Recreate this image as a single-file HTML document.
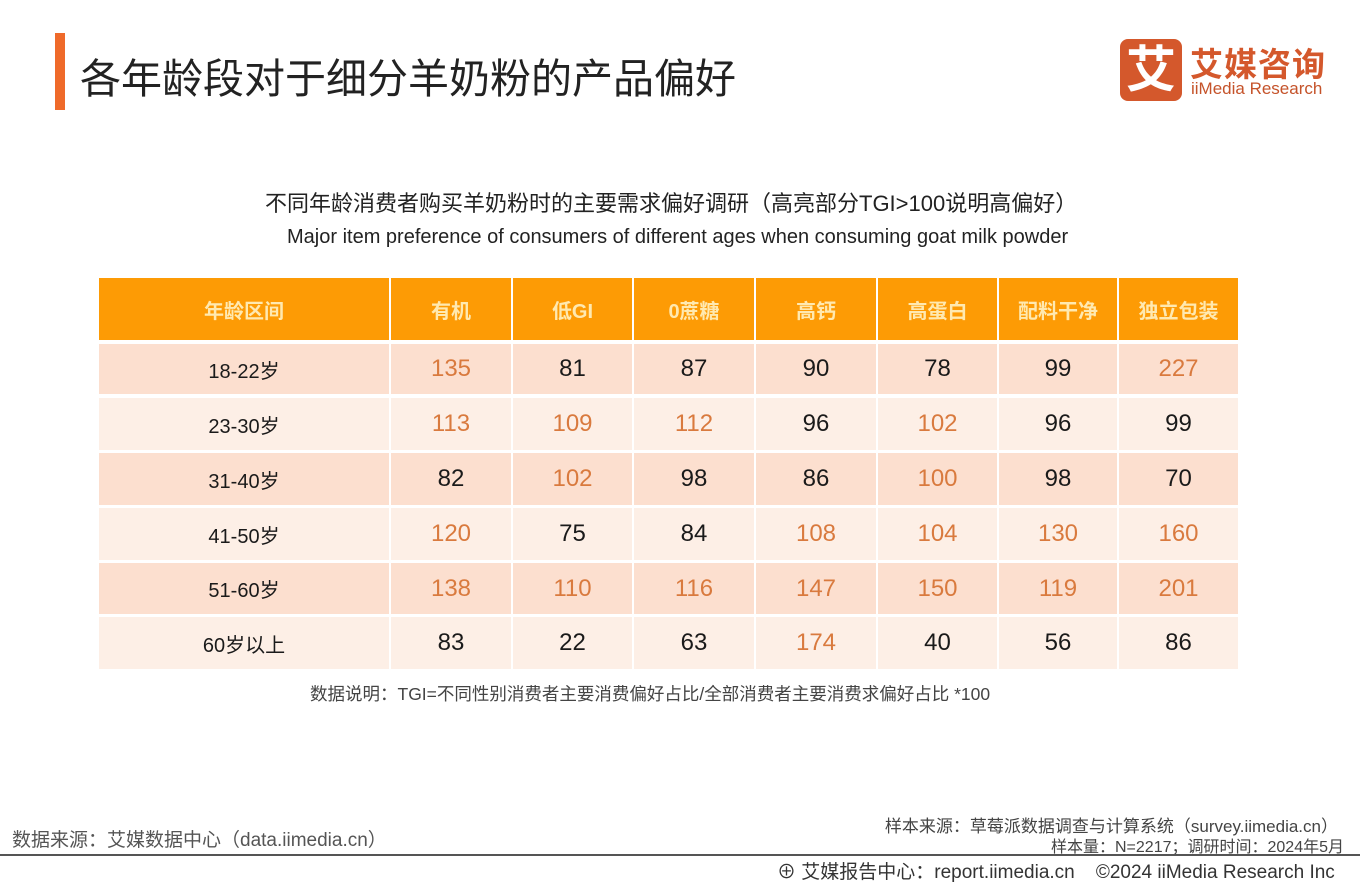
<!DOCTYPE html>
<html><head><meta charset="utf-8"><style>
body{margin:0;width:1360px;height:884px;background:#fff;position:relative;overflow:hidden;font-family:"Liberation Sans","Noto Sans CJK SC",sans-serif;}
.a{position:absolute;white-space:nowrap}
.c{position:absolute;display:flex;align-items:center;justify-content:center;font-size:24px;color:#1a1a1a}
.h{background:#fd9b05;color:#ffe9b0;font-size:20px;font-weight:bold}
.o{color:#d97a3e}
</style></head><body>
<div class="a" style="left:55px;top:33px;width:10px;height:77px;background:#ef6a2a"></div>
<div class="a" style="left:80px;top:45px;font-size:41px;color:#222">各年龄段对于细分羊奶粉的产品偏好</div>
<div class="a" style="left:1120px;top:39px;width:62px;height:62px;background:#d4582c;border-radius:8px;color:#fff;font-size:50px;font-weight:bold;text-align:center;line-height:62px">艾</div>
<div class="a" style="left:1190px;top:38px;font-size:33px;color:#d4582c;font-weight:bold;letter-spacing:1px">艾媒咨询</div>
<div class="a" style="left:1191px;top:79px;font-size:17px;color:#c5532a">iiMedia Research</div>
<div class="a" style="left:265px;top:186px;font-size:22px;color:#222">不同年龄消费者购买羊奶粉时的主要需求偏好调研（高亮部分TGI&gt;100说明高偏好）</div>
<div class="a" style="left:287px;top:226px;font-size:20px;color:#222">Major item preference of consumers of different ages when consuming goat milk powder</div>
<div id="t"></div>
<div class="a" style="left:310px;top:681px;font-size:17.5px;color:#444">数据说明：TGI=不同性别消费者主要消费偏好占比/全部消费者主要消费求偏好占比 *100</div>
<div class="a" style="left:12px;top:825px;font-size:19px;color:#555">数据来源：艾媒数据中心（data.iimedia.cn）</div>
<div class="a" style="right:22px;top:812px;font-size:17px;color:#444">样本来源：草莓派数据调查与计算系统（survey.iimedia.cn）</div>
<div class="a" style="right:16px;top:833px;font-size:16px;color:#444">样本量：N=2217；调研时间：2024年5月</div>
<div class="a" style="left:0;top:854px;width:1360px;height:2px;background:#555"></div>
<div class="a" style="left:777px;top:857px;font-size:19px;color:#333">⊕ 艾媒报告中心：report.iimedia.cn &nbsp;&nbsp; ©2024 iiMedia Research Inc</div>
<script>
var cols=[[99,290],[391,120],[513,119],[634,120],[756,120],[878,119],[999,118],[1119,119]];
var hd=["年龄区间","有机","低GI","0蔗糖","高钙","高蛋白","配料干净","独立包装"];
var rows=[["18-22岁",135,81,87,90,78,99,227],["23-30岁",113,109,112,96,102,96,99],["31-40岁",82,102,98,86,100,98,70],["41-50岁",120,75,84,108,104,130,160],["51-60岁",138,110,116,147,150,119,201],["60岁以上",83,22,63,174,40,56,86]];
var ys=[[344,50],[398,52],[453,52],[508,52],[563,51],[617,52]];
var s="";
cols.forEach(function(c,i){s+='<div class="c h" style="left:'+c[0]+'px;top:278px;width:'+c[1]+'px;height:62px">'+hd[i]+'</div>';});
rows.forEach(function(r,j){var bg=j%2==0?"#fcdfcf":"#fdefe6";cols.forEach(function(c,i){var v=r[i];var cl=(i>0&&v>=100)?" o":"";var fs=i==0?"font-size:20px;":"";s+='<div class="c'+cl+'" style="'+fs+'background:'+bg+';left:'+c[0]+'px;top:'+ys[j][0]+'px;width:'+c[1]+'px;height:'+ys[j][1]+'px">'+v+'</div>';});});
document.getElementById("t").innerHTML=s;
</script>
</body></html>
